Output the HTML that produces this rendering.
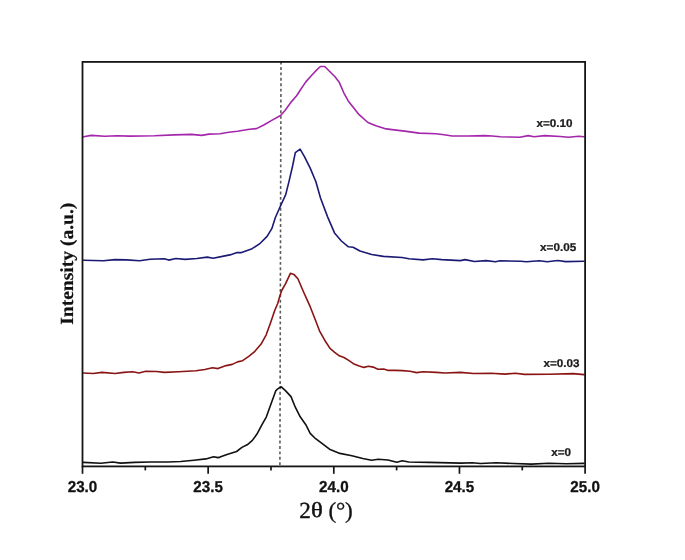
<!DOCTYPE html>
<html><head><meta charset="utf-8"><style>
html,body{margin:0;padding:0;background:#fff;}
body{width:685px;height:560px;overflow:hidden;}
svg{display:block;will-change:transform;}
</style></head><body>
<svg width="685" height="560" viewBox="0 0 685 560" text-rendering="geometricPrecision">
<line x1="281.0" y1="61.6" x2="279.9" y2="465" stroke="#5c5c5c" stroke-width="1.6" stroke-dasharray="2.9,2.514"/>
<g fill="none" stroke-width="1.6" stroke-linejoin="round" stroke-linecap="round">
<polyline stroke="#111" points="83.3,462.4 100.8,463.3 112.8,462.0 120.5,463.1 134.7,462.4 150.0,462.0 167.6,462.0 180.7,461.5 193.9,460.2 205.9,458.9 213.6,456.7 218.0,457.6 220.0,457.1 227.0,454.5 236.6,451.5 241.9,447.4 247.2,444.8 252.4,440.4 256.8,434.3 262.0,424.7 266.4,416.8 270.8,404.5 275.7,390.9 277.8,388.8 281.0,386.7 285.7,390.9 291.0,396.6 295.3,407.2 300.2,416.8 305.8,424.7 310.2,433.4 314.6,437.8 321.6,443.1 329.5,449.2 339.9,453.4 351.9,455.8 362.8,458.5 371.6,460.2 378.2,459.3 388.0,460.0 396.8,462.2 402.3,460.7 408.8,462.0 428.5,462.4 439.5,462.6 461.4,463.1 472.3,462.8 480.5,463.5 496.3,462.8 513.8,463.5 531.3,464.1 548.8,463.2 566.4,463.7 584.0,463.4"/>
<polyline stroke="#8a1414" points="83.3,373.0 93.1,373.5 101.9,372.4 115.0,373.5 123.8,372.4 132.6,371.7 139.1,373.0 145.7,371.3 156.6,371.5 164.3,372.4 178.5,371.7 196.0,370.8 204.8,369.5 212.5,367.8 218.0,368.6 220.0,367.7 226.2,365.6 232.3,364.4 237.5,361.9 242.6,360.7 248.8,356.4 254.9,351.3 261.1,344.1 266.2,334.8 270.3,323.5 274.8,310.2 277.8,303.3 279.7,296.4 281.7,290.5 285.6,283.7 290.4,273.3 293.9,274.4 297.9,278.8 303.8,292.5 309.6,305.3 314.6,318.0 319.5,330.8 324.4,339.7 330.0,348.4 334.7,352.3 339.3,355.8 344.0,357.5 348.7,360.4 353.4,363.7 359.2,365.9 363.9,367.4 368.5,366.3 373.2,367.1 377.9,369.2 383.7,369.0 388.4,370.4 395.4,370.4 402.4,370.6 410.0,371.3 416.6,372.6 423.2,371.7 436.3,372.4 445.1,373.0 460.4,372.4 473.6,373.5 491.0,373.2 505.0,374.1 515.5,373.2 524.3,374.4 548.8,374.2 573.4,373.6 584.0,374.6"/>
<polyline stroke="#1a1a74" points="83.5,260.3 103.4,260.8 115.0,259.6 126.7,259.9 139.6,260.8 150.1,259.2 164.1,258.7 168.8,260.1 175.8,258.5 185.1,259.4 196.8,258.5 207.3,257.1 213.1,258.2 224.8,255.9 230.0,254.9 237.0,252.6 241.6,252.6 252.1,248.7 260.2,243.3 267.1,236.4 271.8,228.7 275.3,217.8 279.9,207.3 285.7,194.6 289.2,180.6 292.7,165.5 295.3,152.6 300.1,149.2 304.3,156.3 310.1,167.9 315.9,181.8 320.5,198.0 327.5,216.6 334.5,232.9 341.4,241.0 348.4,246.8 353.1,247.3 360.0,251.0 371.7,254.5 383.4,256.4 402.0,257.5 409.0,258.7 423.1,259.9 432.4,258.7 441.8,259.6 460.4,260.6 465.1,259.6 474.5,261.5 486.1,260.6 495.5,261.7 500.0,260.8 521.0,261.2 526.3,261.7 539.4,260.8 547.3,261.7 557.8,260.5 565.7,261.6 584.0,261.2"/>
<polyline stroke="#a326ab" points="83.7,136.8 91.2,135.4 104.8,136.3 117.2,135.8 129.6,136.1 154.5,135.8 174.3,134.9 191.7,134.4 201.6,135.4 209.1,134.1 220.0,133.7 228.8,132.3 237.5,131.2 247.7,129.5 256.5,128.6 263.8,125.0 272.6,119.9 280.6,115.5 285.0,110.4 291.5,101.6 296.6,95.8 300.0,90.5 305.8,81.9 311.7,75.3 316.8,69.9 320.4,66.5 324.8,66.5 329.2,71.0 335.0,76.8 339.4,82.6 343.8,92.8 348.2,100.9 354.0,108.2 359.1,114.7 367.9,122.5 375.9,125.7 384.7,128.6 392.0,129.6 404.6,131.1 419.2,133.1 436.0,133.7 444.1,134.8 452.1,136.0 468.2,136.0 484.2,135.6 492.2,136.0 500.3,136.8 510.0,137.0 519.7,137.2 528.3,135.6 534.2,136.8 544.7,135.6 560.4,136.5 568.3,137.2 578.8,136.2 584.0,136.8"/>
</g>
<rect x="82.5" y="61.9" width="502.6" height="404.5" fill="none" stroke="#151515" stroke-width="1.8"/>
<g stroke="#151515" stroke-width="1.7">
<line x1="82.50" y1="466" x2="82.50" y2="473.8"/><line x1="145.32" y1="466" x2="145.32" y2="470.4"/><line x1="208.15" y1="466" x2="208.15" y2="473.8"/><line x1="270.98" y1="466" x2="270.98" y2="470.4"/><line x1="333.80" y1="466" x2="333.80" y2="473.8"/><line x1="396.62" y1="466" x2="396.62" y2="470.4"/><line x1="459.45" y1="466" x2="459.45" y2="473.8"/><line x1="522.28" y1="466" x2="522.28" y2="470.4"/><line x1="585.10" y1="466" x2="585.10" y2="473.8"/>
</g>
<g font-family="'Liberation Sans', sans-serif" font-weight="bold" font-size="15.2" fill="#111" stroke="#111" stroke-width="0.3">
<text transform="translate(82.50,491.9) scale(1,1.04)" text-anchor="middle">23.0</text><text transform="translate(208.15,491.9) scale(1,1.04)" text-anchor="middle">23.5</text><text transform="translate(333.80,491.9) scale(1,1.04)" text-anchor="middle">24.0</text><text transform="translate(459.45,491.9) scale(1,1.04)" text-anchor="middle">24.5</text><text transform="translate(585.10,491.9) scale(1,1.04)" text-anchor="middle">25.0</text>
</g>
<g font-family="'Liberation Sans', sans-serif" font-weight="bold" font-size="11.7" fill="#1a1a1a" stroke="#1a1a1a" stroke-width="0.25" text-anchor="end">
<text transform="translate(572.6,127) scale(1,0.965)">x=0.10</text>
<text transform="translate(576.2,251.2) scale(1,0.965)">x=0.05</text>
<text transform="translate(579.6,367) scale(1,0.965)">x=0.03</text>
<text transform="translate(571,455.6) scale(1,0.965)">x=0</text>
</g>
<g font-family="'Liberation Serif', serif" font-size="23.2" fill="#111"><text transform="translate(299.3,517.6) scale(1,0.99)" stroke="#111" stroke-width="0.35">2</text><text transform="translate(328.6,517.6) scale(1,0.99)" stroke="#111" stroke-width="0.3" letter-spacing="-0.3">(°)</text></g>
<text transform="translate(316.8,517.4) scale(1.06,0.93)" text-anchor="middle" font-family="'Liberation Serif', serif" font-size="23.2" fill="#111" stroke="#111" stroke-width="0.5">θ</text>
<text transform="translate(72.6,324.8) rotate(-90) scale(1.056,1)" font-family="'Liberation Serif', serif" font-weight="bold" font-size="18.5" fill="#111" stroke="#111" stroke-width="0.2">Intensity (a.u.)</text>
</svg>
</body></html>
